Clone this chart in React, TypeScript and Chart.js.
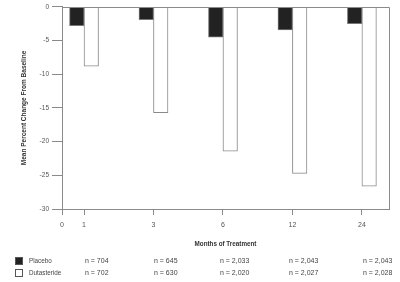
import React, { useEffect, useRef } from "react";
import { Chart, registerables } from "chart.js";

Chart.register(...registerables);

const months = ["1", "3", "6", "12", "24"];
const xTickLabels = ["0", "1", "3", "6", "12", "24"];
const placebo = [-2.8, -1.9, -4.5, -3.4, -2.5];
const dutasteride = [-8.8, -15.7, -21.4, -24.7, -26.6];
const placeboN = ["n = 704", "n = 645", "n = 2,033", "n = 2,043", "n = 2,043"];
const dutasterideN = ["n = 702", "n = 630", "n = 2,020", "n = 2,027", "n = 2,028"];
const seriesNames = ["Placebo", "Dutasteride"];

const FONT = "'Liberation Sans Narrow', 'Liberation Sans', Arial, sans-serif";
const X_MIN = -0.317;
const X_MAX = 4.39;

const framePlugin = {
  id: "frame",
  afterDatasetsDraw(chart: any) {
    const { ctx, chartArea } = chart;
    ctx.save();
    ctx.strokeStyle = "#8a8a8a";
    ctx.lineWidth = 1;
    ctx.beginPath();
    ctx.moveTo(Math.round(chartArea.left) + 0.5, Math.round(chartArea.top) + 0.5);
    ctx.lineTo(Math.round(chartArea.right) + 0.5, Math.round(chartArea.top) + 0.5);
    ctx.lineTo(Math.round(chartArea.right) + 0.5, Math.round(chartArea.bottom) + 0.5);
    ctx.stroke();
    ctx.restore();
  },
};

const tablePlugin = {
  id: "nTable",
  afterDraw(chart: any) {
    const { ctx } = chart;
    const cols = [85, 154, 220, 289, 363];
    const rows = [261, 273];
    const fills = ["#222222", "#ffffff"];
    const ns = [placeboN, dutasterideN];
    ctx.save();
    ctx.textBaseline = "middle";
    ctx.textAlign = "left";
    rows.forEach((y, r) => {
      ctx.fillStyle = fills[r];
      ctx.strokeStyle = "#555";
      ctx.lineWidth = 1;
      ctx.fillRect(15.5, y - 3.5, 7, 7);
      ctx.strokeRect(15.5, y - 3.5, 7, 7);
      ctx.fillStyle = "#444";
      ctx.font = `6.3px ${FONT}`;
      ctx.fillText(seriesNames[r], 29, y);
      ctx.font = `7px ${FONT}`;
      ns[r].forEach((t, i) => ctx.fillText(t, cols[i], y));
    });
    ctx.restore();
  },
};

export default function App() {
  const ref = useRef<HTMLCanvasElement>(null);
  useEffect(() => {
    document.body.style.margin = "0";
    const canvas = ref.current!;
    const chart = new Chart(canvas, {
      type: "bar",
      data: {
        datasets: [
          {
            label: seriesNames[0],
            data: placebo.map((v, i) => ({ x: i, y: v })),
            backgroundColor: "#222222",
            borderColor: "#777",
            borderWidth: 1,
            barThickness: 14.5,
          },
          {
            label: seriesNames[1],
            data: dutasteride.map((v, i) => ({ x: i, y: v })),
            backgroundColor: "#ffffff",
            borderColor: "#8a8a8a",
            borderWidth: 1,
            barThickness: 14.5,
          },
        ] as any,
      },
      options: {
        animation: false,
        responsive: false,
        maintainAspectRatio: false,
        layout: { padding: { top: 4, right: 11, bottom: 0, left: 0 } },
        plugins: { legend: { display: false }, tooltip: { enabled: false } },
        scales: {
          x: {
            type: "linear",
            offset: false,
            min: X_MIN,
            max: X_MAX,
            afterBuildTicks: (scale: any) => {
              scale.ticks = [X_MIN, 0, 1, 2, 3, 4].map((v) => ({ value: v }));
            },
            afterFit: (scale: any) => {
              scale.height = 73;
            },
            ticks: {
              autoSkip: false,
              maxRotation: 0,
              padding: 6,
              color: "#555",
              font: { family: FONT, size: 7 },
              callback: (v: any, i: number) => xTickLabels[i],
            },
            grid: { offset: false, drawOnChartArea: false, tickLength: 6, color: "#8a8a8a" },
            border: { color: "#8a8a8a" },
            title: {
              display: true,
              text: "Months of Treatment",
              color: "#333",
              font: { family: FONT, size: 6.3, weight: "bold" },
              padding: { bottom: 34, top: 0 },
            },
          },
          y: {
            min: -30,
            max: 0,
            afterBuildTicks: (scale: any) => {
              scale.ticks = [0, -5, -10, -15, -20, -25, -30].map((v) => ({ value: v }));
            },
            afterFit: (scale: any) => {
              scale.width = 62;
            },
            ticks: {
              padding: 3,
              color: "#555",
              font: { family: FONT, size: 6.5 },
            },
            grid: { drawOnChartArea: false, tickLength: 10, color: "#8a8a8a" },
            border: { color: "#8a8a8a" },
            title: {
              display: true,
              text: "Mean Percent Change From Baseline",
              color: "#333",
              font: { family: FONT, size: 6.5, weight: "bold" },
              padding: { top: 20, bottom: 0 },
            },
          },
        },
      } as any,
      plugins: [framePlugin, tablePlugin],
    });
    return () => chart.destroy();
  }, []);
  return <canvas ref={ref} width={400} height={282} style={{ display: "block" }} />;
}
